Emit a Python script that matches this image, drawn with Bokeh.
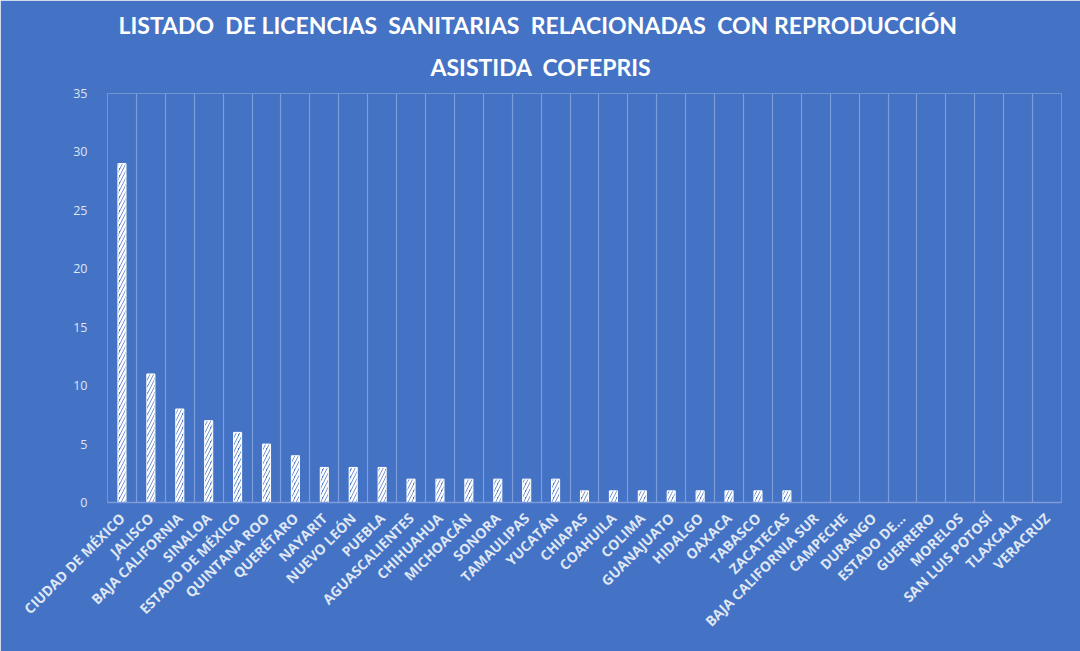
from bokeh.plotting import figure
from bokeh.models import Title, FixedTicker, ColumnDataSource
from bokeh.embed import file_html
from bokeh.resources import INLINE

# Licencias sanitarias por entidad federativa
estados = [
    "CIUDAD DE MÉXICO", "JALISCO", "BAJA CALIFORNIA", "SINALOA", "ESTADO DE MÉXICO",
    "QUINTANA ROO", "QUERÉTARO", "NAYARIT", "NUEVO LEÓN", "PUEBLA",
    "AGUASCALIENTES", "CHIHUAHUA", "MICHOACÁN", "SONORA", "TAMAULIPAS",
    "YUCATÁN", "CHIAPAS", "COAHUILA", "COLIMA", "GUANAJUATO",
    "HIDALGO", "OAXACA", "TABASCO", "ZACATECAS", "BAJA CALIFORNIA SUR",
    "CAMPECHE", "DURANGO", "ESTADO DE...", "GUERRERO", "MORELOS",
    "SAN LUIS POTOSÍ", "TLAXCALA", "VERACRUZ",
]
licencias = [
    29, 11, 8, 7, 6,
    5, 4, 3, 3, 3,
    2, 2, 2, 2, 2,
    2, 1, 1, 1, 1,
    1, 1, 1, 1, 0,
    0, 0, 0, 0, 0,
    0, 0, 0,
]
y_ticks = [0, 5, 10, 15, 20, 25, 30, 35]
titulo = [
    "LISTADO\u00a0 DE LICENCIAS\u00a0 SANITARIAS\u00a0 RELACIONADAS\u00a0 CON REPRODUCCIÓN",
    "ASISTIDA\u00a0 COFEPRIS",
]

BG = "#4472C4"
GRID = "#7e9ddb"
TXT = "#dfe6f4"

n = len(estados)
pos = list(range(n))
src = ColumnDataSource(dict(x=pos, y=licencias))

p = figure(
    width=1080, height=651,
    x_range=(-0.5, n - 0.5), y_range=(0, 35),
    output_backend="svg", toolbar_location=None,
    title=None,
    min_border_left=107, min_border_right=19,
    min_border_top=93, min_border_bottom=149,
)
p.background_fill_color = BG
p.border_fill_color = BG
p.outline_line_color = None

# Two title lines, shifted from the frame's left edge so both sit centred
# on the page (the line nearest the plot is added first)
title_style = dict(align="left", text_color="white", text_font="Lato",
                   text_font_size="23px", text_font_style="bold")
p.add_layout(Title(text=titulo[1], offset=323, standoff=26, **title_style), "above")
p.add_layout(Title(text=titulo[0], offset=11, standoff=-3, **title_style), "above")

p.vbar(x="x", top="y", width=0.28, source=src,
       fill_color=BG, line_color="white", line_width=1,
       hatch_pattern="right_diagonal_line", hatch_color="white",
       hatch_weight=2.5, hatch_scale=7)

# Vertical gridlines between categories
p.xgrid.ticker = FixedTicker(ticks=[i - 0.5 for i in range(n + 1)])
p.xgrid.grid_line_color = GRID
p.xgrid.grid_line_width = 1.2
p.ygrid.grid_line_color = None

# X axis with rotated category names
p.xaxis.ticker = FixedTicker(ticks=pos)
p.xaxis.major_label_overrides = {i: name for i, name in enumerate(estados)}
p.xaxis.major_label_orientation = 0.785398
p.xaxis.major_label_text_color = TXT
p.xaxis.major_label_text_font = "Open Sans"
p.xaxis.major_label_text_font_size = "14px"
p.xaxis.major_label_text_font_style = "bold"
p.xaxis.major_label_standoff = 7
p.xaxis.axis_line_color = GRID
p.xaxis.axis_line_width = 1.5
p.xaxis.major_tick_line_color = None
p.xaxis.minor_tick_line_color = None

# Y axis
p.yaxis.ticker = FixedTicker(ticks=y_ticks)
p.yaxis.major_label_text_color = TXT
p.yaxis.major_label_text_font = "Open Sans"
p.yaxis.major_label_text_font_size = "12.5px"
p.yaxis.major_label_standoff = 14
p.yaxis.axis_line_color = None
p.yaxis.major_tick_line_color = None
p.yaxis.minor_tick_line_color = None

open("out.html", "w").write(file_html(p, INLINE))
